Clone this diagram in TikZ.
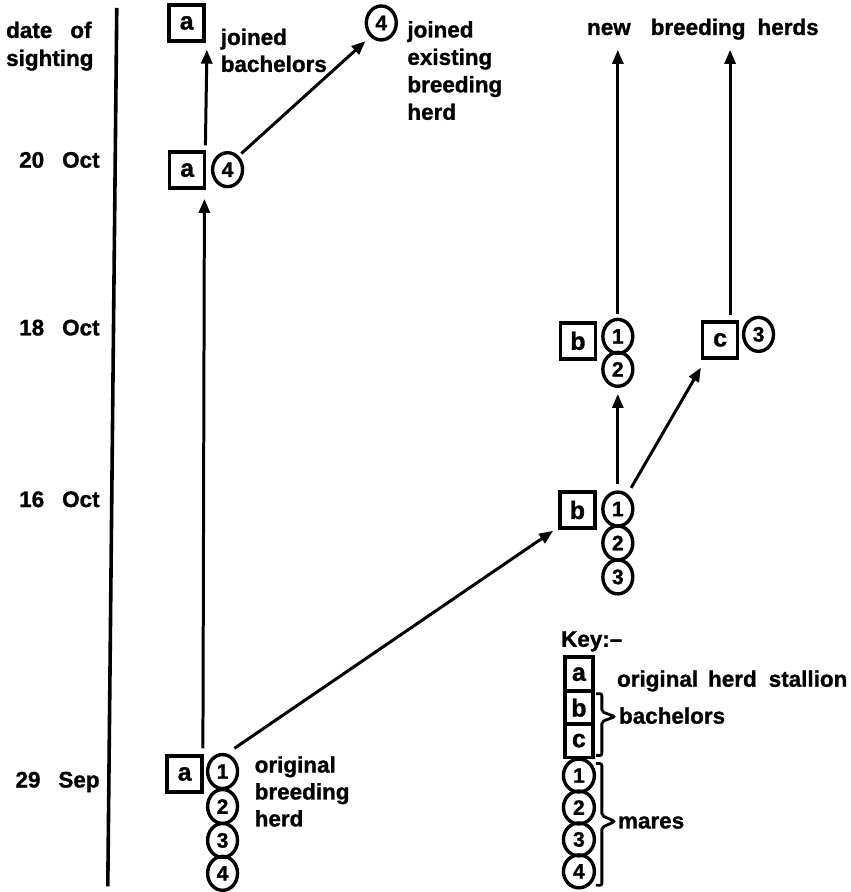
\documentclass[tikz,border=0pt]{standalone}
\usepackage{fontspec}
\setmainfont{Liberation Sans}[BoldFeatures={FakeBold=1.2}]
\usetikzlibrary{shapes.geometric,arrows.meta}
\newcommand\lblfont{\fontsize{22.5}{27.5}\selectfont\bfseries}
\newcommand\boxfont{\fontsize{25}{28}\selectfont\bfseries}
\newcommand\numfont{\fontsize{21}{22}\selectfont\bfseries}
\begin{document}
\begin{tikzpicture}[x=1pt,y=-1pt,
  lbl/.style={font=\lblfont, inner sep=0pt, anchor=base west},
  datelbl/.style={font=\lblfont, inner sep=0pt, anchor=base east},
  horse/.style={draw, line width=3.6pt, minimum width=35pt, minimum height=36pt, inner sep=0pt, font=\boxfont},
  keyhorse/.style={horse, minimum width=28pt, minimum height=34pt},
  mare/.style={ellipse, draw, line width=3.4pt, minimum width=30pt, minimum height=34pt, inner sep=0pt, font=\numfont},
  keymare/.style={mare, minimum width=31pt, minimum height=33pt},
  arr/.style={-{Triangle[length=14pt,width=11pt]}, line width=3pt},
  brace/.style={line width=2.8pt, rounded corners=2pt}]
\fill[white] (0,0) rectangle (852,892);

% time axis
\coordinate (axtop) at (117,8);
\coordinate (axbot) at (108,888);
\draw[line width=3.6pt] (axtop) -- (axbot);

% date labels
\node[lbl] (d1) at (6,38) {date\hspace{18pt}of};
\node[lbl] (d2) at (6,66) {sighting};
\node[datelbl] (t20) at (100,168) {20\hspace{18pt}Oct};
\node[datelbl] (t18) at (100,336) {18\hspace{18pt}Oct};
\node[datelbl] (t16) at (100,508) {16\hspace{18pt}Oct};
\node[datelbl] (t29) at (100,789) {29\hspace{18pt}Sep};

% 29 Sep
\node[horse] (a29) at (185,775.5) {a};
\node[mare] (m1a) at (223,773) {1};
\node[mare] (m2a) at (223,808) {2};
\node[mare] (m3a) at (223,842) {3};
\node[mare] (m4a) at (223,875) {4};
\node[lbl] (o1) at (255,774) {original};
\node[lbl] (o2) at (255,801) {breeding};
\node[lbl] (o3) at (255,828) {herd};

% 20 Oct
\node[horse] (a20) at (187.5,170.5) {a};
\node[mare] (m4b) at (228,170) {4};

% top
\node[horse] (atop) at (187,23) {a};
\node[lbl] (j1) at (221,45) {joined};
\node[lbl] (j2) at (221,72) {bachelors};
\node[mare] (m4t) at (382,23) {4};
\node[lbl] (e1) at (408,37.5) {joined};
\node[lbl] (e2) at (408,65) {existing};
\node[lbl] (e3) at (408,92.5) {breeding};
\node[lbl] (e4) at (408,120) {herd};

% 16 Oct
\node[horse] (b16) at (578.5,511) {b};
\node[mare] (m1c) at (619,510) {1};
\node[mare] (m2c) at (619,544) {2};
\node[mare] (m3c) at (619,578) {3};

% 18 Oct
\node[horse] (b18) at (579,341.5) {b};
\node[mare] (m1d) at (619,337) {1};
\node[mare] (m2d) at (619,370) {2};
\node[horse] (c18) at (721.5,340.5) {c};
\node[mare] (m3d) at (760,335) {3};

% new breeding herds
\node[lbl] (head) at (588,35) {new\hspace{20pt}breeding\hspace{12pt}herds};

% arrows
\draw[arr] ([xshift=-1pt,yshift=6pt]a29.north east) -- ([xshift=-2pt,yshift=-9pt]a20.south east);
\draw[arr] ([xshift=-1pt,yshift=5pt]a20.north east) -- ([xshift=1pt,yshift=-7pt]atop.south east);
\draw[arr] ([shift={(2pt,3pt)}]m4b.north east) -- ([shift={(-4pt,-5pt)}]m4t.south west);
\draw[arr] ([shift={(0pt,10pt)}]m1a.north east) -- ([shift={(-5pt,-1pt)}]b16.south west);
\draw[arr] ([yshift=6pt]m1c.north) -- ([yshift=-6pt]m2d.south);
\draw[arr] ([shift={(1.5pt,8pt)}]m1c.north east) -- ([shift={(0pt,-8pt)}]c18.south west);
\draw[arr, shorten <=4pt, shorten >=10pt] (m1d.north) -- (m1d.north |- head.south);
\coordinate (cup) at ([xshift=10pt]c18.north);
\draw[arr, shorten <=5pt, shorten >=10pt] (cup) -- (cup |- head.south);

% key
\node[lbl] (key) at (562,648) {Key:–};
\node[keyhorse] (ka) at (580,675.5) {a};
\node[keyhorse] (kb) at (580,709) {b};
\node[keyhorse] (kc) at (580,742) {c};
\node[keymare] (k1) at (580,777) {1};
\node[keymare] (k2) at (580,809) {2};
\node[keymare] (k3) at (580,841) {3};
\node[keymare] (k4) at (580,873) {4};
\node[lbl] (kt1) at (618,688) {original\hspace{10pt}herd\hspace{12pt}stallion};
\node[lbl] (kt2) at (620,725) {bachelors};
\node[lbl] (kt3) at (619,830) {mares};
\draw[brace] (597,695) -- (603,695) -- (603,713) -- (616,718) -- (603,723) -- (603,757) -- (597,757);
\draw[brace] (597,765) -- (603,765) -- (603,817) -- (616,823) -- (603,829) -- (603,887) -- (597,887);
\end{tikzpicture}
\end{document}
